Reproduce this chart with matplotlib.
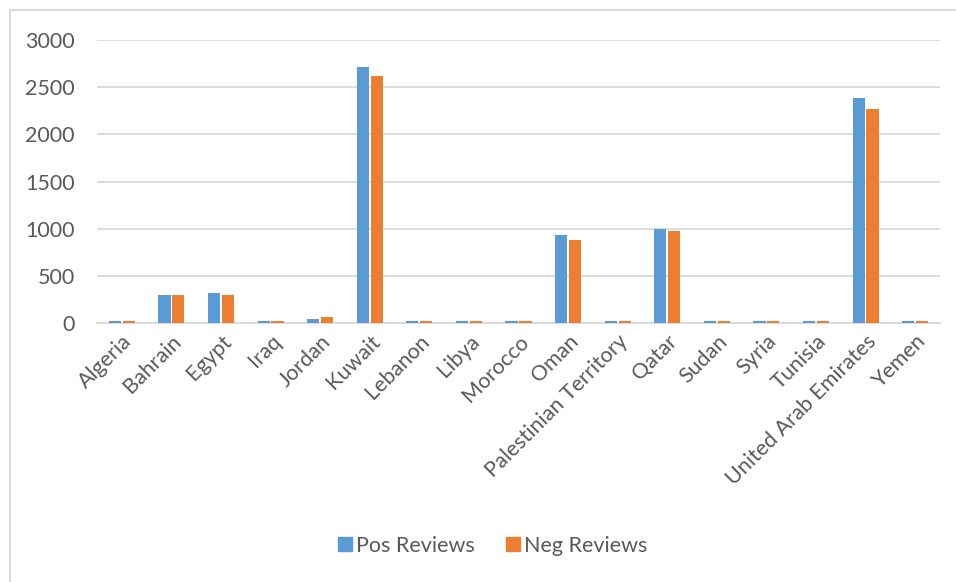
import matplotlib
matplotlib.use("Agg")
import matplotlib.pyplot as plt
import numpy as np
from matplotlib.lines import Line2D

countries = ["Algeria", "Bahrain", "Egypt", "Iraq", "Jordan", "Kuwait", "Lebanon",
             "Libya", "Morocco", "Oman", "Palestinian Territory", "Qatar", "Sudan",
             "Syria", "Tunisia", "United Arab Emirates", "Yemen"]
pos_reviews = [20, 300, 320, 20, 45, 2710, 20, 20, 20, 935, 20, 1000, 20, 20, 20, 2390, 20]
neg_reviews = [20, 300, 300, 20, 65, 2620, 20, 20, 20, 875, 20, 980, 20, 20, 20, 2265, 20]
y_ticks = [0, 500, 1000, 1500, 2000, 2500, 3000]

blue = "#5B9BD5"
orange = "#ED7D31"
text_gray = "#595959"
grid_gray = "#D9D9D9"

plt.rcParams["font.family"] = ["Lato", "DejaVu Sans"]
FS = 15.5

W, H = 956, 582
fig = plt.figure(figsize=(W / 100, H / 100), dpi=100)
fig.patch.set_facecolor("white")

left, right = 97 / W, 940 / W
bottom, top = (H - 323) / H, (H - 40) / H
ax = fig.add_axes([left, bottom, right - left, top - bottom])

x = np.arange(len(countries))
bw = 0.245
off = 0.14
ax.bar(x - off, pos_reviews, bw, color=blue, zorder=3)
ax.bar(x + off, neg_reviews, bw, color=orange, zorder=3)

ax.set_xlim(-0.5, len(countries) - 0.5)
ax.set_ylim(0, 3000)
ax.set_yticks(y_ticks)
ax.set_yticklabels([str(v) for v in y_ticks], fontsize=FS, color=text_gray)
ax.yaxis.grid(True, color=grid_gray, linewidth=1.3, zorder=0)
ax.tick_params(axis="y", length=0, pad=16)
ax.tick_params(axis="x", length=0, pad=6)

ax.set_xticks(x)
ax.set_xticklabels(countries, rotation=45, ha="right", rotation_mode="anchor",
                   fontsize=FS, color=text_gray)

for s in ["top", "right", "left"]:
    ax.spines[s].set_visible(False)
ax.spines["bottom"].set_color(grid_gray)
ax.spines["bottom"].set_linewidth(1.3)

handles = [
    Line2D([], [], marker="s", linestyle="none", markersize=10, color=blue),
    Line2D([], [], marker="s", linestyle="none", markersize=10, color=orange),
]
fig.legend(handles, ["Pos Reviews", "Neg Reviews"], loc="center",
           bbox_to_anchor=(492 / W, 1 - 546 / H), ncol=2, frameon=False,
           fontsize=FS, labelcolor=text_gray, handletextpad=0.1,
           columnspacing=1.4, handlelength=0.8)

# chart area border
fig.add_artist(Line2D([10 / W, 1], [1 - 10 / H, 1 - 10 / H], color=grid_gray,
                      linewidth=1.5, transform=fig.transFigure))
fig.add_artist(Line2D([10 / W, 10 / W], [0, 1 - 10 / H], color=grid_gray,
                      linewidth=1.5, transform=fig.transFigure))

fig.savefig("out.png", dpi=100, facecolor="white")
